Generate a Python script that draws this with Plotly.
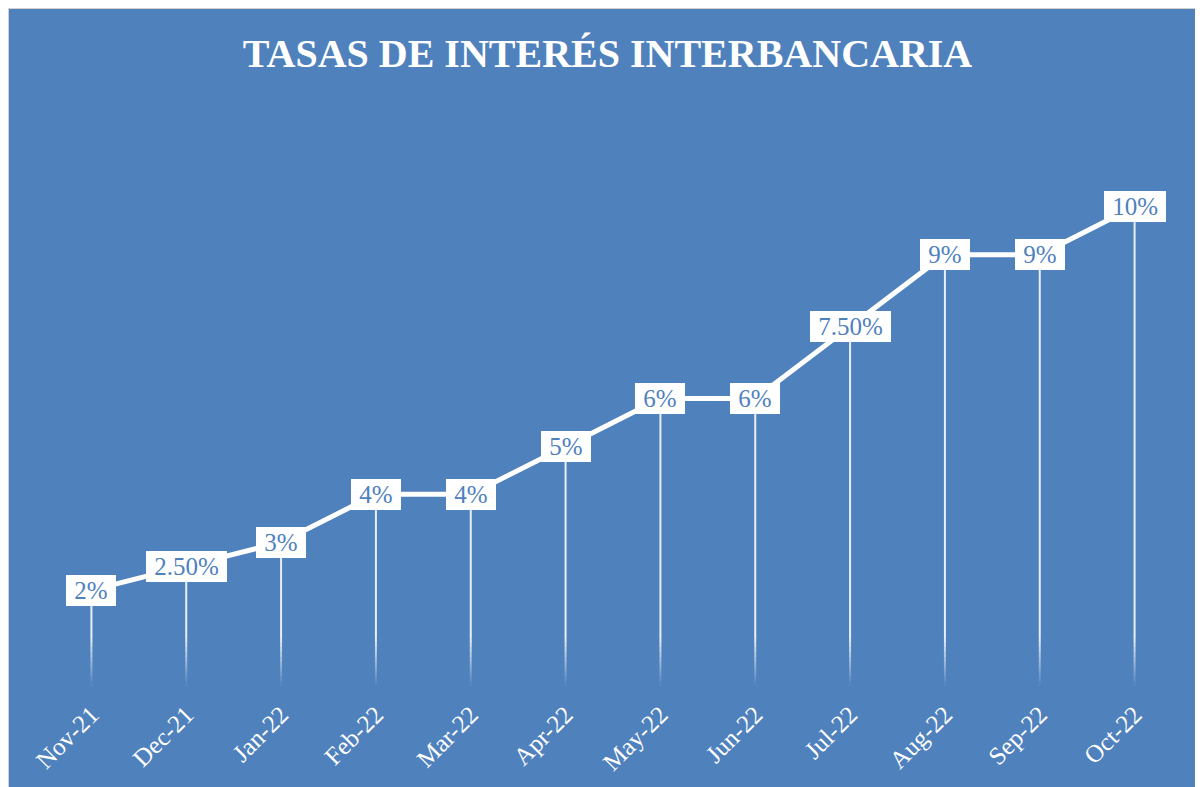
import plotly.graph_objects as go

# ---- data ----
months = ["Nov-21", "Dec-21", "Jan-22", "Feb-22", "Mar-22", "Apr-22",
          "May-22", "Jun-22", "Jul-22", "Aug-22", "Sep-22", "Oct-22"]
rates = [2, 2.5, 3, 4, 4, 5, 6, 6, 7.5, 9, 9, 10]
title_text = "TASAS DE INTERÉS INTERBANCARIA"

# ---- style ----
BLUE = "#4F81BD"
W, H = 1195, 779            # page body margin (8px) supplies the white strip
ML, MR, MT, MB = 36, 21, 103, 101
SERIF = "Liberation Serif"
FADE_TOP = 1.0      # data units above baseline where drop lines start fading
N_FADE = 10


def fmt(v):
    return f"{int(v)}%" if float(v).is_integer() else f"{v:.2f}%"


fig = go.Figure()

fig.add_trace(go.Scatter(
    x=months, y=rates, mode="lines",
    line=dict(color="white", width=5),
    hoverinfo="skip", showlegend=False,
))

shapes = []
# drop lines with a fade toward the baseline
for m, v in zip(months, rates):
    shapes.append(dict(type="line", xref="x", yref="y", x0=m, x1=m,
                       y0=FADE_TOP, y1=v, layer="below",
                       line=dict(color="white", width=2), opacity=0.88))
    for k in range(N_FADE):
        lo = FADE_TOP * k / N_FADE
        hi = FADE_TOP * (k + 1) / N_FADE
        shapes.append(dict(type="line", xref="x", yref="y", x0=m, x1=m,
                           y0=lo, y1=hi, layer="below",
                           line=dict(color="white", width=2),
                           opacity=0.88 * (k + 0.5) / N_FADE))

# light grey border at top/left of the chart area
pw = W - ML - MR
ph = H - MT - MB
def px_x(p):
    return (p - ML) / pw
def px_y(p):
    return (H - MB - p) / ph

shapes.append(dict(type="line", xref="paper", yref="paper",
                   x0=px_x(0), x1=px_x(W), y0=px_y(0.5), y1=px_y(0.5),
                   line=dict(color="#d0d0d0", width=1), layer="above"))
shapes.append(dict(type="line", xref="paper", yref="paper",
                   x0=px_x(0.5), x1=px_x(0.5), y0=px_y(H), y1=px_y(0),
                   line=dict(color="#d0d0d0", width=1), layer="above"))

annotations = []
for m, v in zip(months, rates):
    annotations.append(dict(
        x=m, y=v, xref="x", yref="y",
        text="\u00a0" + fmt(v) + "\u00a0",
        showarrow=False, xanchor="center", yanchor="middle",
        bgcolor="white", bordercolor="white", borderwidth=1, borderpad=1,
        font=dict(family=SERIF, size=25, color=BLUE),
    ))

fig.update_layout(
    width=W, height=H,
    margin=dict(l=ML, r=MR, t=MT, b=MB),
    paper_bgcolor=BLUE, plot_bgcolor=BLUE,
    title=dict(text=title_text, x=0.5017, xanchor="center",
               y=1 - 45 / H, yanchor="middle", yref="container",
               font=dict(family=SERIF, size=40, color="white", weight=700)),
    xaxis=dict(type="category", showgrid=False, zeroline=False, showline=False,
               ticks="", tickangle=-45, ticklabelstandoff=8,
               tickfont=dict(family=SERIF, size=25, color="white"),
               range=[-0.5, len(months) - 0.5], fixedrange=True),
    yaxis=dict(range=[0, 12], visible=False, fixedrange=True),
    shapes=shapes, annotations=annotations,
    showlegend=False,
)

fig.write_html("out.html")
